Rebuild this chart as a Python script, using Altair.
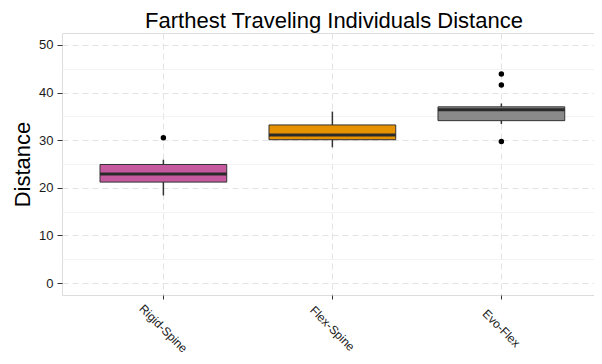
import altair as alt
import pandas as pd

groups = ["Rigid-Spine", "Flex-Spine", "Evo-Flex"]
whisker_low = [18.4, 28.5, 33.4]
q1 = [21.2, 30.1, 34.1]
median = [22.9, 31.1, 36.4]
q3 = [24.9, 33.2, 37.0]
whisker_high = [25.9, 36.0, 37.7]
colors = ["#C55A9E", "#E69100", "#8A8A8A"]

outlier_groups = ["Rigid-Spine", "Evo-Flex", "Evo-Flex", "Evo-Flex"]
outlier_values = [30.5, 43.9, 41.6, 29.7]

y_ticks = [0, 5, 10, 15, 20, 25, 30, 35, 40, 45, 50]

stats = pd.DataFrame({
    "group": groups,
    "lo": whisker_low,
    "q1": q1,
    "med": median,
    "q3": q3,
    "hi": whisker_high,
})
outliers = pd.DataFrame({"group": outlier_groups, "value": outlier_values})

FONT = "Liberation Sans"
major = "datum.value % 10 === 0"

x_enc = alt.X(
    "group:N",
    sort=groups,
    scale=alt.Scale(domain=groups, paddingInner=0.25, paddingOuter=0.199, align=0.565),
    axis=alt.Axis(
        title=None,
        labelAngle=45,
        labelAlign="center",
        labelBaseline="middle",
        labelPadding=29,
        labelFontSize=12,
        labelColor="#1a1a1a",
        labelFont=FONT,
        tickColor="#333333",
        tickSize=4,
        domain=False,
        grid=True,
        gridColor="#e3e3e3",
        gridDash=[6, 4],
        gridWidth=1,
    ),
)

y_scale = alt.Scale(domain=[-2.5, 52.5], nice=False, zero=False)
y_axis = alt.Axis(
    title="Distance",
    titleFontSize=22,
    titleFontWeight="normal",
    titleFont=FONT,
    titleColor="#000000",
    titlePadding=4,
    values=y_ticks,
    labelExpr="datum.value % 10 === 0 ? datum.label : ''",
    labelFontSize=13,
    labelFont=FONT,
    labelColor="#1a1a1a",
    labelPadding=4,
    tickColor="#333333",
    tickSize=5,
    tickOpacity={"condition": {"test": major, "value": 1}, "value": 0},
    domain=False,
    grid=True,
    gridColor={"condition": {"test": major, "value": "#e3e3e3"}, "value": "#f3f3f3"},
    gridDash={"condition": {"test": major, "value": [6, 4]}, "value": []},
    gridWidth=1,
)

base = alt.Chart(stats)

whiskers = base.mark_rule(color="#333333", strokeWidth=1.5).encode(
    x=x_enc,
    y=alt.Y("lo:Q", scale=y_scale, axis=y_axis),
    y2="hi:Q",
)

boxes = base.mark_bar(stroke="#333333", strokeWidth=1).encode(
    x=x_enc,
    y=alt.Y("q1:Q", scale=y_scale, axis=y_axis),
    y2="q3:Q",
    fill=alt.Fill("group:N", scale=alt.Scale(domain=groups, range=colors), legend=None),
)

medians = base.mark_bar(stroke="#2a2a2a", strokeWidth=3, fillOpacity=0).encode(
    x=x_enc,
    y=alt.Y("med:Q", scale=y_scale, axis=y_axis),
    y2="med:Q",
)

points = alt.Chart(outliers).mark_circle(color="#000000", size=30, opacity=1).encode(
    x=x_enc,
    y=alt.Y("value:Q", scale=y_scale, axis=y_axis),
)

chart = alt.layer(whiskers, boxes, medians, points).properties(
    width=532,
    height=262,
    autosize="none",
    padding={"left": 54, "top": 25, "right": 0, "bottom": 61},
    title=alt.TitleParams(
        "Farthest Traveling Individuals Distance",
        fontSize=22,
        font=FONT,
        fontWeight="normal",
        color="#000000",
        anchor="middle",
        offset=0,
        dx=6,
    ),
).configure_view(
    stroke="#8c8c8c",
    strokeWidth=1,
).configure(background="#ffffff")

chart.save("out.html", embed_options={"renderer": "svg", "actions": False})
